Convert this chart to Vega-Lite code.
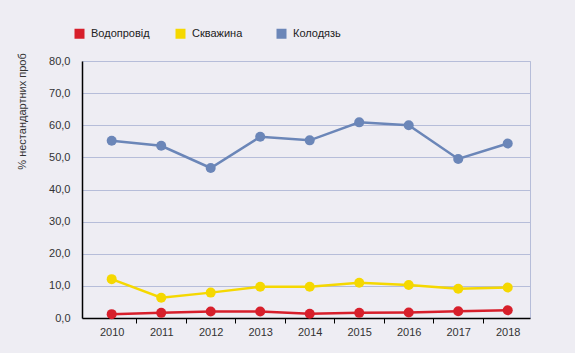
{
  "$schema": "https://vega.github.io/schema/vega-lite/v6.json",
  "width": 448,
  "height": 257,
  "autosize": {"type": "none"},
  "padding": {"left": 82, "top": 61, "right": 45, "bottom": 35},
  "background": "#eeedf3",
  "config": {
    "font": "Liberation Sans",
    "view": {"stroke": "#b6bdd9", "strokeWidth": 1}
  },
  "data": {
    "values": [
      {"year": 2010, "series": "Водопровід", "value": 1.2},
      {"year": 2011, "series": "Водопровід", "value": 1.6},
      {"year": 2012, "series": "Водопровід", "value": 2.0},
      {"year": 2013, "series": "Водопровід", "value": 2.0},
      {"year": 2014, "series": "Водопровід", "value": 1.3},
      {"year": 2015, "series": "Водопровід", "value": 1.6},
      {"year": 2016, "series": "Водопровід", "value": 1.7},
      {"year": 2017, "series": "Водопровід", "value": 2.1},
      {"year": 2018, "series": "Водопровід", "value": 2.4},
      {"year": 2010, "series": "Скважина", "value": 12.1},
      {"year": 2011, "series": "Скважина", "value": 6.3},
      {"year": 2012, "series": "Скважина", "value": 7.9},
      {"year": 2013, "series": "Скважина", "value": 9.7},
      {"year": 2014, "series": "Скважина", "value": 9.7},
      {"year": 2015, "series": "Скважина", "value": 11.0},
      {"year": 2016, "series": "Скважина", "value": 10.3},
      {"year": 2017, "series": "Скважина", "value": 9.1},
      {"year": 2018, "series": "Скважина", "value": 9.5},
      {"year": 2010, "series": "Колодязь", "value": 55.2},
      {"year": 2011, "series": "Колодязь", "value": 53.6},
      {"year": 2012, "series": "Колодязь", "value": 46.7},
      {"year": 2013, "series": "Колодязь", "value": 56.4},
      {"year": 2014, "series": "Колодязь", "value": 55.3},
      {"year": 2015, "series": "Колодязь", "value": 60.9},
      {"year": 2016, "series": "Колодязь", "value": 60.0},
      {"year": 2017, "series": "Колодязь", "value": 49.5},
      {"year": 2018, "series": "Колодязь", "value": 54.3}
    ]
  },
  "encoding": {
    "x": {
      "field": "year",
      "type": "quantitative",
      "scale": {"domain": [2009.4, 2018.45], "nice": false, "zero": false},
      "axis": {
        "title": null,
        "grid": false,
        "values": [2010, 2010.5, 2011, 2011.5, 2012, 2012.5, 2013, 2013.5, 2014, 2014.5, 2015, 2015.5, 2016, 2016.5, 2017, 2017.5, 2018],
        "labelExpr": "datum.value % 1 === 0 ? '' + datum.value : ''",
        "labelOverlap": false,
        "labelFlush": false,
        "labelFontSize": 11,
        "labelColor": "#333333",
        "labelPadding": 3,
        "domainColor": "#000000",
        "domainWidth": 1.5,
        "tickColor": "#000000",
        "tickSize": 5,
        "tickOpacity": {"condition": {"test": "datum.value % 1 !== 0", "value": 1}, "value": 0}
      }
    },
    "y": {
      "field": "value",
      "type": "quantitative",
      "scale": {"domain": [0, 80], "nice": false},
      "axis": {
        "title": "% нестандартних проб",
        "titleFontWeight": "normal",
        "titleFontSize": 11,
        "titleColor": "#333333",
        "titleAngle": -90,
        "titleX": -60,
        "titleY": 50,
        "titleAlign": "center",
        "titleBaseline": "middle",
        "values": [0, 10, 20, 30, 40, 50, 60, 70, 80],
        "labelExpr": "replace(format(datum.value, '.1f'), '.', ',')",
        "labelFontSize": 11,
        "labelColor": "#333333",
        "labelPadding": 12,
        "ticks": false,
        "grid": true,
        "gridColor": "#b6bdd9",
        "gridWidth": 1,
        "domainColor": "#000000",
        "domainWidth": 1.5
      }
    },
    "color": {
      "field": "series",
      "type": "nominal",
      "scale": {
        "domain": ["Водопровід", "Скважина", "Колодязь"],
        "range": ["#d71f2b", "#f5d800", "#6b86b8"]
      },
      "legend": {
        "title": null,
        "orient": "none",
        "legendX": -8,
        "legendY": -33,
        "direction": "horizontal",
        "columns": 3,
        "gridAlign": "all",
        "columnPadding": 25,
        "symbolType": "square",
        "symbolSize": 100,
        "symbolStrokeWidth": 0,
        "labelFontSize": 11,
        "labelColor": "#222222",
        "labelOffset": 6
      }
    }
  },
  "layer": [
    {"mark": {"type": "line", "strokeWidth": 2.5}},
    {"mark": {"type": "point", "filled": true, "size": 100, "opacity": 1, "shape": "circle"}}
  ]
}
